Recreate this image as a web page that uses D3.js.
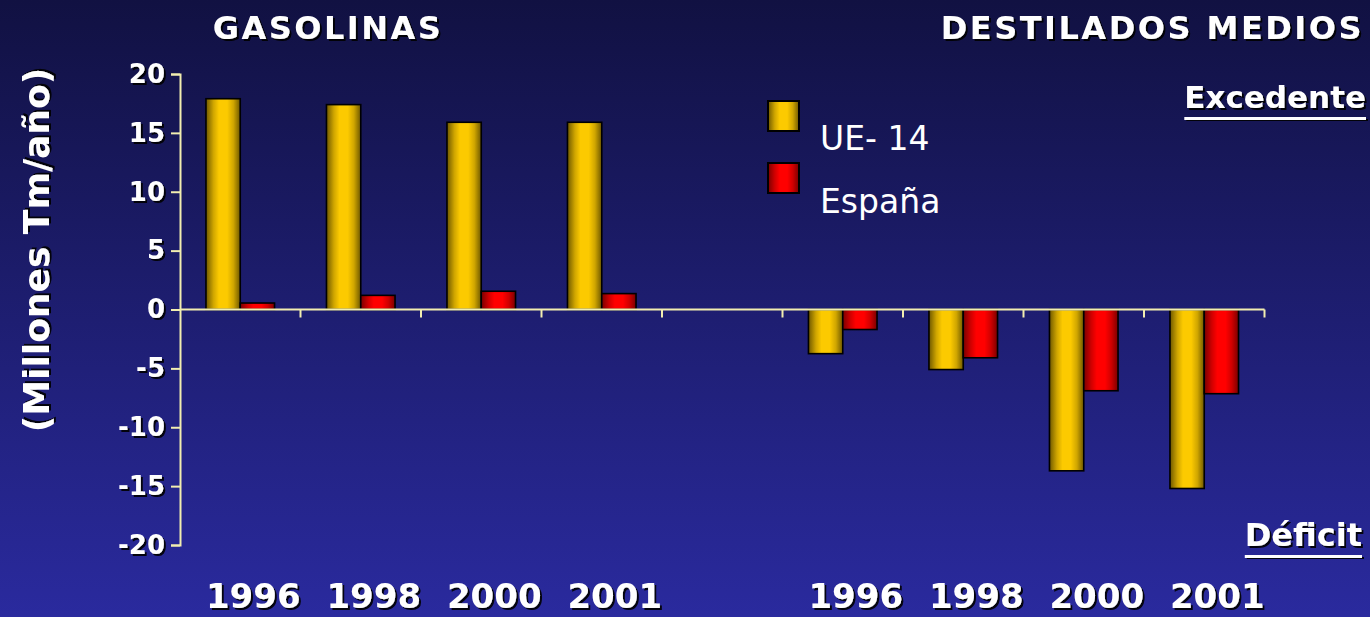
<!DOCTYPE html>
<html>
<head>
<meta charset="utf-8">
<script src="https://cdn.jsdelivr.net/npm/d3@7"></script>
<style>
  html, body { margin: 0; padding: 0; background: #1a1a60; }
  svg { display: block; }
  text { font-family: "Comic Sans MS", "DejaVu Sans", sans-serif; fill: #fff; }
</style>
</head>
<body>
<div id="chart"></div>
<script>
// values (millions Tm/year)
var years = ["1996", "1998", "2000", "2001"];
var seriesNames = ["UE- 14", "España"];
var gasolinasUE = [17.9, 17.4, 15.9, 15.9];
var gasolinasEsp = [0.55, 1.2, 1.55, 1.35];
var destiladosUE = [-3.75, -5.1, -13.7, -15.2];
var destiladosEsp = [-1.7, -4.1, -6.9, -7.15];
var yTicks = [20, 15, 10, 5, 0, -5, -10, -15, -20];

var W = 1370, H = 617;

// 9 slots: 4 gasolinas, an empty one, 4 destilados
var slots = years.map(function (y) { return "G" + y; })
    .concat(["gap"])
    .concat(years.map(function (y) { return "D" + y; }));

var rows = [];
years.forEach(function (y, i) {
    rows.push({ slot: "G" + y, year: y, ue: gasolinasUE[i], es: gasolinasEsp[i] });
});
years.forEach(function (y, i) {
    rows.push({ slot: "D" + y, year: y, ue: destiladosUE[i], es: destiladosEsp[i] });
});

var svg = d3.select("#chart").append("svg")
    .attr("width", W)
    .attr("height", H);

var defs = svg.append("defs");

// background gradient
var bg = defs.append("linearGradient").attr("id", "bg")
    .attr("x1", 0).attr("y1", 0).attr("x2", 0).attr("y2", 1);
bg.append("stop").attr("offset", "0%").attr("stop-color", "#111142");
bg.append("stop").attr("offset", "100%").attr("stop-color", "#2a2a9e");

// cylinder-ish bar gradients
function barGradient(id, dark, mid, bright) {
    var g = defs.append("linearGradient").attr("id", id)
        .attr("x1", 0).attr("y1", 0).attr("x2", 1).attr("y2", 0);
    g.append("stop").attr("offset", "0%").attr("stop-color", dark);
    g.append("stop").attr("offset", "22%").attr("stop-color", mid);
    g.append("stop").attr("offset", "38%").attr("stop-color", bright);
    g.append("stop").attr("offset", "62%").attr("stop-color", bright);
    g.append("stop").attr("offset", "80%").attr("stop-color", mid);
    g.append("stop").attr("offset", "100%").attr("stop-color", dark);
}
barGradient("gold", "#6e5800", "#d0a600", "#fcca00");
barGradient("red", "#7a0000", "#d00000", "#ff0000");

var shadow = defs.append("filter").attr("id", "shadow")
    .attr("x", "-10%").attr("y", "-10%").attr("width", "130%").attr("height", "140%");
shadow.append("feDropShadow")
    .attr("dx", 2).attr("dy", 2).attr("stdDeviation", 0.6)
    .attr("flood-color", "#000").attr("flood-opacity", 0.9);

svg.append("rect")
    .attr("width", W)
    .attr("height", H)
    .attr("fill", "url(#bg)");

// scales
var x = d3.scaleBand()
    .domain(slots)
    .range([180, 1264.5])
    .padding(0);

var xs = d3.scaleBand()
    .domain(["ue", "es"])
    .range([0, x.bandwidth()])
    .paddingInner(0)
    .paddingOuter(0.757);

var y = d3.scaleLinear()
    .domain([-20, 20])
    .range([545, 74]);

var axisColor = "#f2eeb0";

// bars
var groups = svg.append("g")
    .selectAll("g")
    .data(rows)
    .enter().append("g")
    .attr("transform", function (d) { return "translate(" + x(d.slot) + ",0)"; });

groups.selectAll("rect")
    .data(function (d) { return [{ k: "ue", v: d.ue }, { k: "es", v: d.es }]; })
    .enter().append("rect")
    .attr("x", function (d) { return xs(d.k); })
    .attr("width", xs.bandwidth())
    .attr("y", function (d) { return y(Math.max(0, d.v)); })
    .attr("height", function (d) { return Math.abs(y(d.v) - y(0)); })
    .attr("fill", function (d) { return d.k === "ue" ? "url(#gold)" : "url(#red)"; })
    .attr("stroke", "#000")
    .attr("stroke-width", 1.6);

// y axis
var yAxis = svg.append("g")
    .attr("transform", "translate(180,0)")
    .call(d3.axisLeft(y).tickValues(yTicks).tickSize(9).tickPadding(6)
        .tickFormat(function (d) { return d < 0 ? "-" + Math.abs(d) : d; }));
yAxis.select(".domain").attr("stroke", axisColor).attr("stroke-width", 2);
yAxis.selectAll(".tick line").attr("stroke", axisColor).attr("stroke-width", 2);
yAxis.selectAll(".tick text")
    .attr("fill", "#fff")
    .style("font-size", "26px")
    .style("font-weight", "bold")
    .attr("filter", "url(#shadow)");

// x axis along zero, ticks at slot boundaries
var xBounds = slots.map(function (s) { return x(s) + x.bandwidth(); });
svg.append("line")
    .attr("x1", 180).attr("x2", 1264.5)
    .attr("y1", y(0)).attr("y2", y(0))
    .attr("stroke", axisColor).attr("stroke-width", 2);
svg.append("g").selectAll("line")
    .data(xBounds)
    .enter().append("line")
    .attr("x1", function (d) { return d; })
    .attr("x2", function (d) { return d; })
    .attr("y1", y(0))
    .attr("y2", y(0) + 8)
    .attr("stroke", axisColor).attr("stroke-width", 2);

// year labels
svg.append("g").selectAll("text")
    .data(rows)
    .enter().append("text")
    .attr("x", function (d) { return x(d.slot) + x.bandwidth() / 2 + 13; })
    .attr("y", 608)
    .attr("text-anchor", "middle")
    .style("font-size", "34px")
    .style("font-weight", "bold")
    .attr("filter", "url(#shadow)")
    .text(function (d) { return d.year; });

// titles
function label(txt, px, py, anchor, size) {
    return svg.append("text")
        .attr("x", px).attr("y", py)
        .attr("text-anchor", anchor)
        .style("font-size", size + "px")
        .style("font-weight", "bold")
        .attr("filter", "url(#shadow)")
        .text(txt);
}
label("GASOLINAS", 328, 39, "middle", 32).style("letter-spacing", "2.5px");
label("DESTILADOS MEDIOS", 1364, 39, "end", 32).style("letter-spacing", "2.5px");

svg.append("text")
    .attr("transform", "translate(49,250) rotate(-90)")
    .attr("text-anchor", "middle")
    .style("font-size", "36px")
    .style("font-weight", "bold")
    .attr("filter", "url(#shadow)")
    .text("(Millones Tm/año)");

// Excedente / Déficit with underline
function underlined(txt, right, base, size) {
    var t = label(txt, right, base, "end", size);
    var w = t.node().getComputedTextLength();
    svg.append("rect")
        .attr("x", right - w).attr("y", base + 9)
        .attr("width", w).attr("height", 3)
        .attr("fill", "#fff")
        .attr("filter", "url(#shadow)");
}
underlined("Excedente", 1366, 108, 31);
underlined("Déficit", 1362, 546, 32);

// legend
var legend = svg.append("g").attr("transform", "translate(768,101)");
legend.selectAll("rect")
    .data(seriesNames)
    .enter().append("rect")
    .attr("x", 0)
    .attr("y", function (d, i) { return i * 62; })
    .attr("width", 31).attr("height", 30)
    .attr("fill", function (d, i) { return i === 0 ? "url(#gold)" : "url(#red)"; })
    .attr("stroke", "#000").attr("stroke-width", 2);
legend.selectAll("text")
    .data(seriesNames)
    .enter().append("text")
    .attr("x", 52)
    .attr("y", function (d, i) { return 49 + i * 63; })
    .style("font-size", "33px")
    .text(function (d) { return d; });
</script>
</body>
</html>
